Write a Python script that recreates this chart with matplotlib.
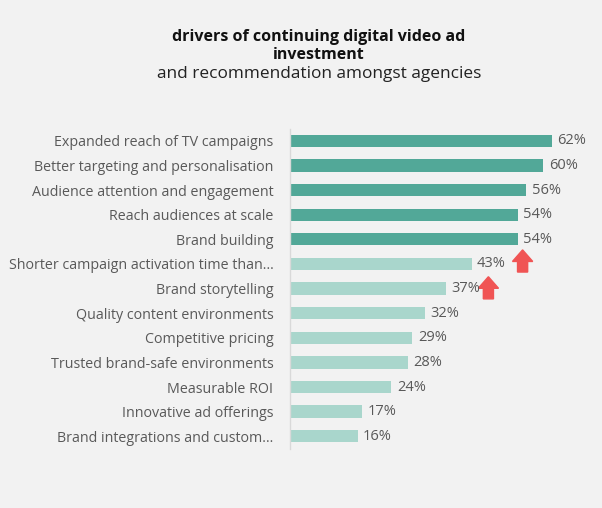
import matplotlib
matplotlib.use("Agg")
import matplotlib.pyplot as plt
from matplotlib.patches import Polygon

categories = [
    "Expanded reach of TV campaigns",
    "Better targeting and personalisation",
    "Audience attention and engagement",
    "Reach audiences at scale",
    "Brand building",
    "Shorter campaign activation time than…",
    "Brand storytelling",
    "Quality content environments",
    "Competitive pricing",
    "Trusted brand-safe environments",
    "Measurable ROI",
    "Innovative ad offerings",
    "Brand integrations and custom…",
]
values = [62, 60, 56, 54, 54, 43, 37, 32, 29, 28, 24, 17, 16]
highlight = [True, True, True, True, True, False, False, False, False, False, False, False, False]
arrow_rows = [5, 6]

BG = "#f2f2f2"
DARK = "#52a898"
LIGHT = "#a9d6cc"
TXT = "#595959"
RED = "#f05454"

plt.rcParams['font.family'] = ['Open Sans', 'DejaVu Sans']

fig = plt.figure(figsize=(6.02, 5.08), dpi=100, facecolor=BG)
ax = fig.add_axes([0.4817, 0.117, 0.50, 0.630], facecolor=BG)

y = list(range(len(categories)))
colors = [DARK if h else LIGHT for h in highlight]
ax.barh(y, values, height=0.5, color=colors, edgecolor="none")
ax.set_ylim(len(categories) - 0.5, -0.5)
ax.set_xlim(0, 71.3)
ax.set_yticks(y)
ax.set_yticklabels(categories, fontsize=10.3, color=TXT)
ax.tick_params(axis='y', length=0, pad=12)
ax.set_xticks([])
for s in ["top", "right", "bottom"]:
    ax.spines[s].set_visible(False)
ax.spines["left"].set_color("#d9d9d9")
ax.spines["left"].set_linewidth(1)

for i, v in enumerate(values):
    ax.text(v + 1.3, i, f"{v}%", va="center", ha="left", fontsize=10.5, color=TXT)

# red up-arrows after the labels of rows that grew (offsets relative to bar end / row)
arrow_dx = [12.1, 10.0]
arrow_dy = [-0.12, -0.03]
for r, dx, dy in zip(arrow_rows, arrow_dx, arrow_dy):
    v = values[r]
    xc = v + dx
    hw, sw = 2.4, 1.2
    top, mid, bot = r + dy - 0.45, r + dy + 0.02, r + dy + 0.45
    pts = [(xc, top), (xc + hw, mid), (xc + sw, mid), (xc + sw, bot),
           (xc - sw, bot), (xc - sw, mid), (xc - hw, mid)]
    ax.add_patch(Polygon(pts, closed=True, color=RED, clip_on=False))

fig.text(0.53, 0.942, "drivers of continuing digital video ad\ninvestment",
         ha="center", va="top", fontsize=11.5, fontweight="bold", color="#111111",
         linespacing=1.1)
fig.text(0.53, 0.87, "and recommendation amongst agencies",
         ha="center", va="top", fontsize=12.4, color="#222222")

fig.savefig("out.png", dpi=100, facecolor=BG)
